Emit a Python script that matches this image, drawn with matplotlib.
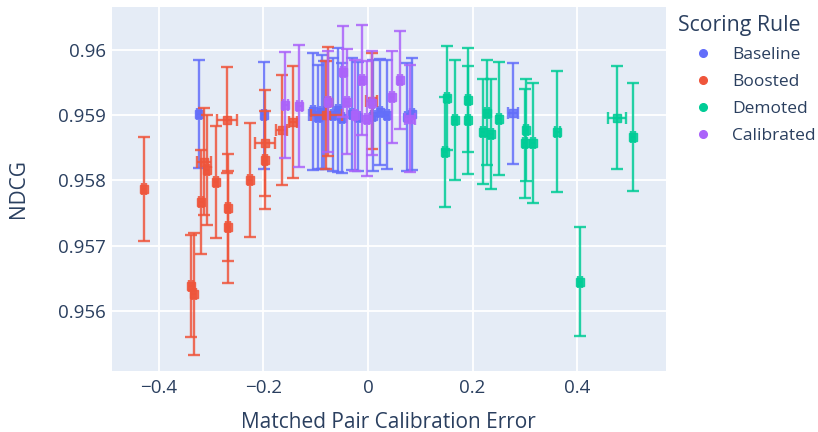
import matplotlib
matplotlib.use("Agg")
import matplotlib.pyplot as plt
from matplotlib.lines import Line2D

# ---------------- data ----------------
rules = ["Baseline", "Boosted", "Demoted", "Calibrated"]
colors = ["#636EFA", "#EF553B", "#00CC96", "#AB63FA"]

baseline_x = [-0.3234, -0.1985, -0.105, -0.096, -0.088, -0.085, -0.067, -0.057, -0.050,
              -0.031, -0.019, 0.010, 0.023, 0.036, 0.075, 0.084, 0.278]
baseline_y = [0.95902, 0.95900, 0.95906, 0.95897, 0.95905, 0.95900, 0.95901, 0.95908, 0.95896,
              0.95902, 0.95898, 0.95899, 0.95905, 0.95901, 0.95897, 0.95902, 0.95903]
baseline_ye = [0.00083, 0.00082, 0.00090, 0.00080, 0.00088, 0.00083, 0.00087, 0.00095, 0.00084,
               0.00086, 0.00083, 0.00085, 0.00081, 0.00084, 0.00083, 0.00086, 0.00077]
baseline_xe = [0.004, 0.004, 0.004, 0.004, 0.004, 0.028, 0.004, 0.004, 0.004,
               0.004, 0.004, 0.004, 0.004, 0.004, 0.004, 0.004, 0.010]

boosted_x = [-0.4287, -0.3394, -0.3324, -0.3196, -0.3133, -0.3076, -0.2909, -0.2705, -0.2674,
             -0.2674, -0.2258, -0.1971, -0.1971, -0.1652, -0.1430, -0.0800, -0.0760, 0.0070]
boosted_y = [0.95787, 0.95638, 0.95626, 0.957675, 0.95829, 0.95816, 0.95798, 0.95893, 0.95758,
             0.95729, 0.95801, 0.95857, 0.95831, 0.95877, 0.95890, 0.95900, 0.95921, 0.95922]
boosted_ye = [0.00080, 0.00078, 0.00093, 0.00080, 0.00082, 0.00084, 0.00086, 0.00081, 0.00082,
              0.00086, 0.00087, 0.00081, 0.00075, 0.00084, 0.00086, 0.00083, 0.00083, 0.00074]
boosted_xe = [0.004, 0.004, 0.004, 0.004, 0.013, 0.004, 0.004, 0.019, 0.004,
              0.004, 0.004, 0.019, 0.004, 0.010, 0.008, 0.030, 0.004, 0.010]

demoted_x = [0.1506, 0.1470, 0.1665, 0.1920, 0.1920, 0.2207, 0.2283, 0.2348, 0.2513,
             0.3024, 0.3005, 0.3164, 0.3625, 0.4057, 0.4760, 0.5077]
demoted_y = [0.95926, 0.95844, 0.95893, 0.95923, 0.95893, 0.95875, 0.95904, 0.95871, 0.95895,
             0.95877, 0.95857, 0.95858, 0.95875, 0.95645, 0.95896, 0.95867]
demoted_ye = [0.00080, 0.00084, 0.00092, 0.00080, 0.00083, 0.00080, 0.00081, 0.00084, 0.00086,
              0.00078, 0.00084, 0.00092, 0.00093, 0.00084, 0.00079, 0.00083]
demoted_xe = [0.004, 0.004, 0.004, 0.004, 0.004, 0.004, 0.004, 0.004, 0.004,
              0.004, 0.004, 0.004, 0.004, 0.004, 0.017, 0.004]

calibrated_x = [-0.1579, -0.1311, -0.0760, -0.0473, -0.0408, -0.0249, -0.0121, -0.0025, 0.0070,
                0.0454, 0.0612, 0.0804]
calibrated_y = [0.95916, 0.95914, 0.95921, 0.95967, 0.95921, 0.95900, 0.95954, 0.95895, 0.95919,
                0.95928, 0.95954, 0.95895]
calibrated_ye = [0.00081, 0.00093, 0.00077, 0.00070, 0.00080, 0.00085, 0.00084, 0.00088, 0.00080,
                 0.00070, 0.00075, 0.00082]
calibrated_xe = [0.004, 0.004, 0.004, 0.004, 0.004, 0.004, 0.004, 0.004, 0.004,
                 0.004, 0.004, 0.010]

series = [
    (baseline_x, baseline_y, baseline_xe, baseline_ye),
    (boosted_x, boosted_y, boosted_xe, boosted_ye),
    (demoted_x, demoted_y, demoted_xe, demoted_ye),
    (calibrated_x, calibrated_y, calibrated_xe, calibrated_ye),
]

x_ticks = [-0.4, -0.2, 0.0, 0.2, 0.4]
x_ticklabels = ["\u22120.4", "\u22120.2", "0", "0.2", "0.4"]
y_ticks = [0.956, 0.957, 0.958, 0.959, 0.960]
y_ticklabels = ["0.956", "0.957", "0.958", "0.959", "0.96"]

# ---------------- style ----------------
TXT = "#2a3f5f"
plt.rcParams["font.family"] = ["Open Sans", "DejaVu Sans"]

fig = plt.figure(figsize=(8.18, 4.32), dpi=100)
ax = fig.add_axes([111.7 / 818, 1 - 371 / 432, (666 - 111.7) / 818, (371 - 6.7) / 432])
ax.set_facecolor("#E5ECF6")
for s in ax.spines.values():
    s.set_visible(False)

for i, ((x, y, xe, ye), c) in enumerate(zip(series, colors)):
    ax.errorbar(x, y, yerr=ye, xerr=xe, fmt="s", color=c, ecolor=c,
                elinewidth=1.7, capsize=4.2, capthick=1.7, markersize=5.5,
                alpha=0.85, zorder=3 + i)

ax.set_xlim(-0.4905, 0.5703)
ax.set_ylim(0.955080, 0.960664)
ax.set_xticks(x_ticks)
ax.set_xticklabels(x_ticklabels)
ax.set_yticks(y_ticks)
ax.set_yticklabels(y_ticklabels)
ax.grid(True, color="white", linewidth=1.3)
ax.set_axisbelow(True)
ax.tick_params(length=0, labelsize=13.5, colors=TXT, pad=6)
ax.tick_params(axis="y", pad=4)

ax.set_xlabel("Matched Pair Calibration Error", fontsize=15, color=TXT, labelpad=10.5)
ax.set_ylabel("NDCG", fontsize=15, color=TXT, labelpad=21)

handles = [Line2D([], [], marker="o", linestyle="", color=c, markersize=5.5) for c in colors]
leg = fig.legend(handles, rules, title="Scoring Rule", loc="upper left",
                 bbox_to_anchor=(678 / 818, 1 - 15 / 432), frameon=False,
                 fontsize=12.5, title_fontsize=15.3, alignment="left",
                 handlelength=2.9, handletextpad=0.2, labelspacing=0.62,
                 borderaxespad=0, borderpad=0)
for t in leg.get_texts():
    t.set_color(TXT)
leg.get_title().set_color(TXT)

fig.savefig("out.png", dpi=100)
